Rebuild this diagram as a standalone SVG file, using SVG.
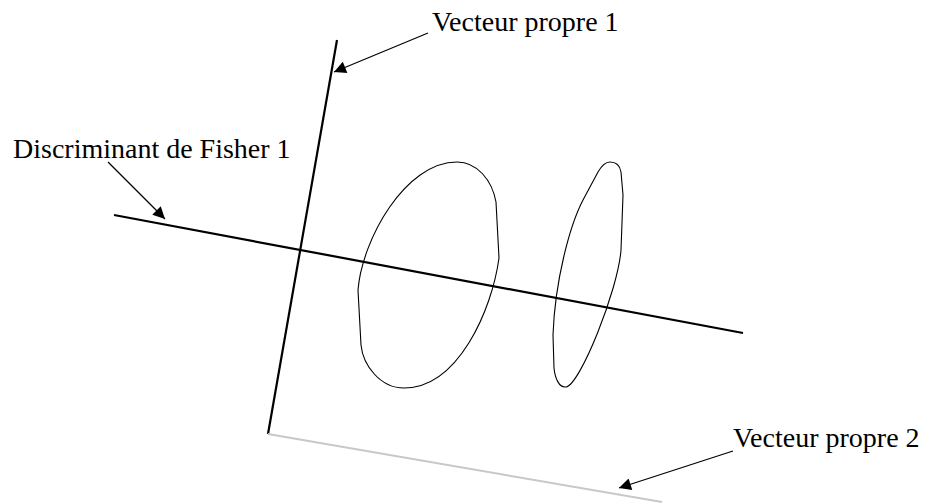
<svg xmlns="http://www.w3.org/2000/svg" width="927" height="504" viewBox="0 0 927 504">
<style>
text{font-family:"Liberation Serif","Times New Roman",serif;font-size:28px;fill:#000}
.axis{stroke:#000;stroke-width:2.2;fill:none}
.axis2{stroke:#c8c8c8;stroke-width:2;fill:none}
.blob{stroke:#000;stroke-width:1.1;fill:none}
.lead{stroke:#000;stroke-width:1.2;fill:none;marker-end:url(#ah)}
</style>
<defs>
<marker id="ah" viewBox="0 0 10 10" refX="10" refY="5" markerWidth="17" markerHeight="12" markerUnits="userSpaceOnUse" orient="auto">
<path d="M0,0 L10,5 L0,10 Z" fill="#000"/>
</marker>
</defs>
<rect width="927" height="504" fill="#fff"/>
<g id="axes">
<line id="vp1" class="axis" x1="337" y1="40" x2="268" y2="434"/>
<line id="vp2" class="axis2" x1="268" y1="434" x2="662" y2="502"/>
<line id="fisher" class="axis" x1="114" y1="215" x2="743" y2="333"/>
</g>
<g id="class1">
<path class="blob" d="M457,162 C477,162 492,180 496,202 L499,258 C492,310 458,388 404,388 C380,388 363,365 361,345 L358,290 C362,240 405,162 457,162 Z"/>
</g>
<g id="class2">
<path class="blob" d="M610,162 C616,162 620,166 621,172 L623,195 L621,250 C618,290 580,385 566,387 C559,388 555,378 554,368 L553,335 C555,280 570,225 583,200 L598,172 C602,165 606,162 610,162 Z"/>
</g>
<g id="label-vp1"><text x="432" y="31">Vecteur propre 1</text></g>
<g id="label-fisher"><text x="13" y="158">Discriminant de Fisher 1</text></g>
<g id="label-vp2"><text x="733" y="447">Vecteur propre 2</text></g>
<g id="connectors">
<line class="lead" x1="428" y1="33" x2="334" y2="72"/>
<line class="lead" x1="108" y1="162" x2="165" y2="219"/>
<line class="lead" x1="733" y1="451" x2="619" y2="488"/>
</g>
</svg>
